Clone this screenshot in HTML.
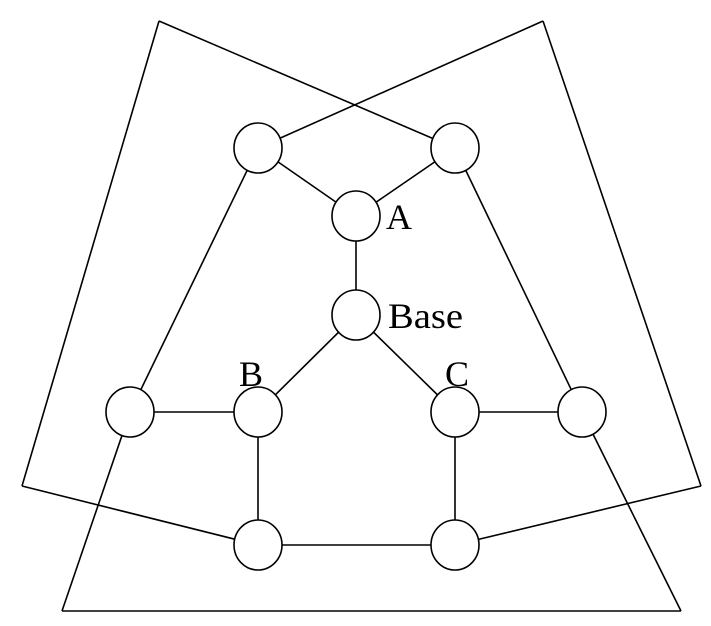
<!DOCTYPE html>
<html><head><style>html,body{margin:0;padding:0;background:#fff;width:711px;height:626px;overflow:hidden}</style></head>
<body>
<svg width="711" height="626" viewBox="0 0 711 626" xmlns="http://www.w3.org/2000/svg">
<g stroke="#000" stroke-width="1.6" fill="none">
<line x1="159" y1="21" x2="455" y2="148"/>
<line x1="159" y1="21" x2="22" y2="486"/>
<line x1="22" y1="486" x2="258" y2="545"/>
<line x1="543" y1="21" x2="258" y2="148"/>
<line x1="543" y1="21" x2="701" y2="486"/>
<line x1="701" y1="486" x2="455" y2="545"/>
<line x1="62" y1="611" x2="681" y2="611"/>
<line x1="62" y1="611" x2="130" y2="412"/>
<line x1="681" y1="611" x2="582" y2="412"/>
<line x1="130" y1="412" x2="258" y2="148"/>
<line x1="582" y1="412" x2="455" y2="148"/>
<line x1="258" y1="148" x2="356" y2="216"/>
<line x1="455" y1="148" x2="356" y2="216"/>
<line x1="356" y1="216" x2="356" y2="315"/>
<line x1="356" y1="315" x2="258" y2="412"/>
<line x1="356" y1="315" x2="455" y2="412"/>
<line x1="130" y1="412" x2="258" y2="412"/>
<line x1="455" y1="412" x2="582" y2="412"/>
<line x1="258" y1="412" x2="258" y2="545"/>
<line x1="455" y1="412" x2="455" y2="545"/>
<line x1="258" y1="545" x2="455" y2="545"/>
</g>
<g stroke="#000" stroke-width="1.6" fill="#fff">
<ellipse cx="258" cy="148" rx="24" ry="25"/>
<ellipse cx="455" cy="148" rx="24" ry="25"/>
<ellipse cx="356" cy="216" rx="24" ry="25"/>
<ellipse cx="356" cy="315" rx="24" ry="25"/>
<ellipse cx="258" cy="412" rx="24" ry="25"/>
<ellipse cx="455" cy="412" rx="24" ry="25"/>
<ellipse cx="130" cy="412" rx="24" ry="25"/>
<ellipse cx="582" cy="412" rx="24" ry="25"/>
<ellipse cx="258" cy="545" rx="24" ry="25"/>
<ellipse cx="455" cy="545" rx="24" ry="25"/>
</g>
<g font-family="Liberation Serif, serif" font-size="36" fill="#000">
<text x="386" y="229">A</text>
<text x="388" y="328" textLength="75" lengthAdjust="spacingAndGlyphs">Base</text>
<text x="239" y="386">B</text>
<text x="445" y="386">C</text>
</g>
</svg>
</body></html>
